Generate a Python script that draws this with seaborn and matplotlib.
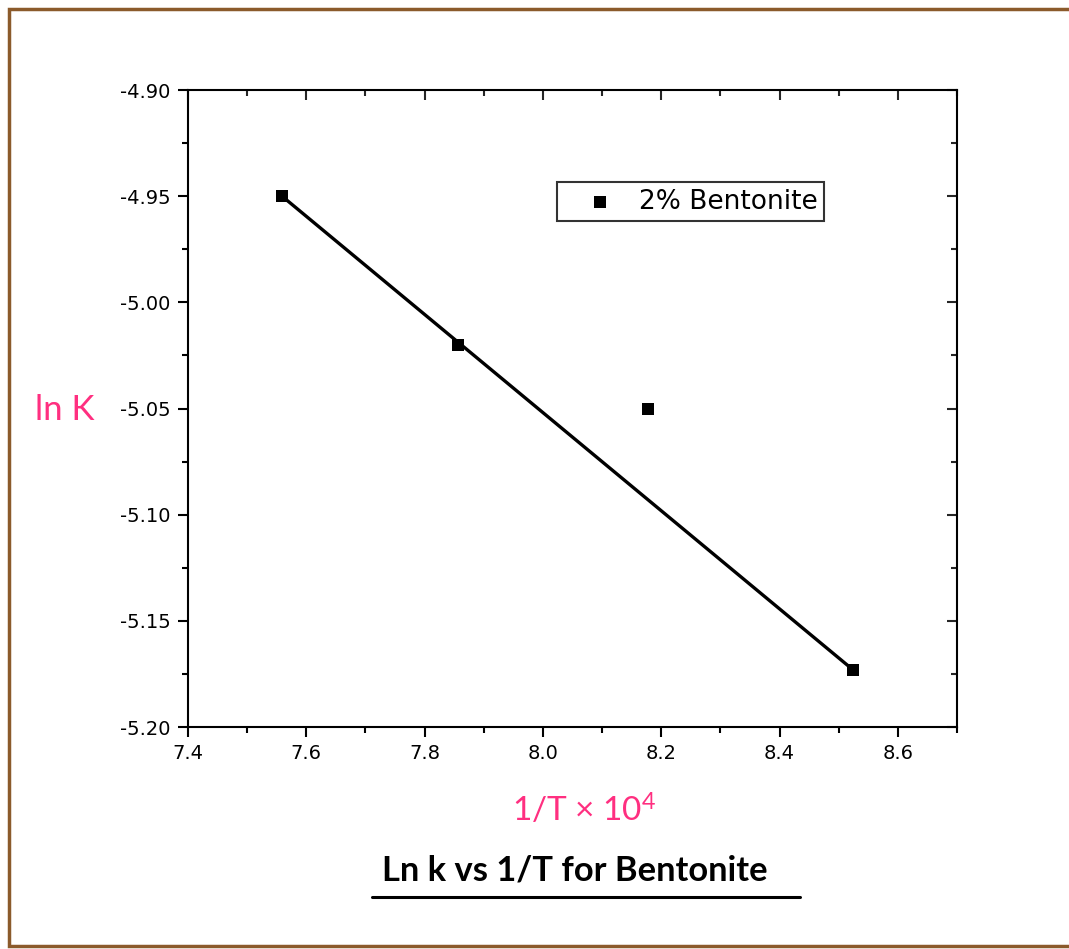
import matplotlib
matplotlib.use("Agg")
import matplotlib.pyplot as plt
from matplotlib.lines import Line2D
from matplotlib.ticker import MultipleLocator, FormatStrFormatter
import numpy as np
import pandas as pd
import seaborn as sns

# Arrhenius-type data for the bentonite sample
inv_temp = [7.559, 7.857, 8.178, 8.524]      # 1/T x 10^4
ln_k = [-4.950, -5.020, -5.050, -5.173]      # ln K
series_label = "2% Bentonite"
x_ticks = [7.4, 7.6, 7.8, 8.0, 8.2, 8.4, 8.6]
y_ticks = [-5.20, -5.15, -5.10, -5.05, -5.00, -4.95, -4.90]

sns.set_theme(style="white")
plt.rcParams["font.family"] = ["DejaVu Sans"]
plt.rcParams["axes.unicode_minus"] = False
plt.rcParams["mathtext.default"] = "regular"

pink = "#ff2f80"
brown = "#8b5a2b"

df = pd.DataFrame({"x": inv_temp, "y": ln_k})
trend = df.iloc[[0, -1]]

fig = plt.figure(figsize=(10.69, 9.49), dpi=100)
ax = fig.add_axes([0.1759, 0.2339, 0.7193, 0.6712])

sns.lineplot(data=trend, x="x", y="y", color="black", linewidth=2.4, ax=ax,
             legend=False, zorder=2)
sns.scatterplot(data=df, x="x", y="y", marker="s", s=80, color="black",
                edgecolor="black", linewidth=0, label=series_label, ax=ax, zorder=3)

ax.set_xlim(7.4, 8.7)
ax.set_ylim(-5.20, -4.90)
ax.set_xticks(x_ticks)
ax.set_yticks(y_ticks)
ax.xaxis.set_minor_locator(MultipleLocator(0.1))
ax.yaxis.set_minor_locator(MultipleLocator(0.025))
ax.xaxis.set_major_formatter(FormatStrFormatter("%.1f"))
ax.yaxis.set_major_formatter(FormatStrFormatter("%.2f"))

for sp in ax.spines.values():
    sp.set_visible(True)
    sp.set_color("black")
    sp.set_linewidth(1.5)

ax.tick_params(which="both", direction="out", color="black", width=1.5,
               bottom=True, left=True, top=False, right=False,
               labelsize=14, labelcolor="black")
ax.tick_params(which="major", length=7.5, pad=5)
ax.tick_params(which="minor", length=4)

# inward ticks on the top and right edges
top = ax.secondary_xaxis("top")
top.set_xticks(x_ticks)
top.xaxis.set_minor_locator(MultipleLocator(0.1))
top.tick_params(which="both", direction="in", width=1.5, top=True, labeltop=False)
top.tick_params(which="major", length=7.5)
top.tick_params(which="minor", length=4)
right = ax.secondary_yaxis("right")
right.set_yticks(y_ticks)
right.yaxis.set_minor_locator(MultipleLocator(0.025))
right.tick_params(which="both", direction="in", width=1.5, right=True, labelright=False)
right.tick_params(which="major", length=7.5)
right.tick_params(which="minor", length=4)

ax.set_xlabel("")
ax.set_ylabel("")

leg = ax.legend(loc="upper left", bbox_to_anchor=(557 / 1069, 1 - 182 / 949),
                bbox_transform=fig.transFigure, frameon=True, fancybox=False,
                fontsize=19, handlelength=2.75, handletextpad=0.1,
                borderpad=0.25, borderaxespad=0, markerscale=0.9)
leg.get_frame().set_edgecolor("black")
leg.get_frame().set_linewidth(1.5)
for t in leg.get_texts():
    t.set_color("black")

fig.text(65 / 1069, 1 - 410 / 949, "ln K", color=pink, fontsize=25,
         family="Lato", ha="center", va="center")
fig.text(584 / 1069, 1 - 810 / 949, "1/T × 10$^4$", color=pink, fontsize=24,
         family="Lato", ha="center", va="center")
fig.text(575 / 1069, 1 - 870 / 949, "Ln k vs 1/T for Bentonite", color="black",
         fontsize=24.8, family="Lato", weight="bold", ha="center", va="center")
fig.add_artist(Line2D([372 / 1069, 800 / 1069], [1 - 897 / 949, 1 - 897 / 949],
                      color="black", linewidth=2.2, transform=fig.transFigure))

# page border (left, top, bottom)
bx0, by0, by1 = 9 / 1069, 1 - 946 / 949, 1 - 9 / 949
fig.add_artist(Line2D([1.01, bx0, bx0, 1.01], [by1, by1, by0, by0],
                      color=brown, linewidth=2.5, transform=fig.transFigure,
                      solid_joinstyle="miter"))

fig.savefig("out.png", dpi=100, facecolor="white")
